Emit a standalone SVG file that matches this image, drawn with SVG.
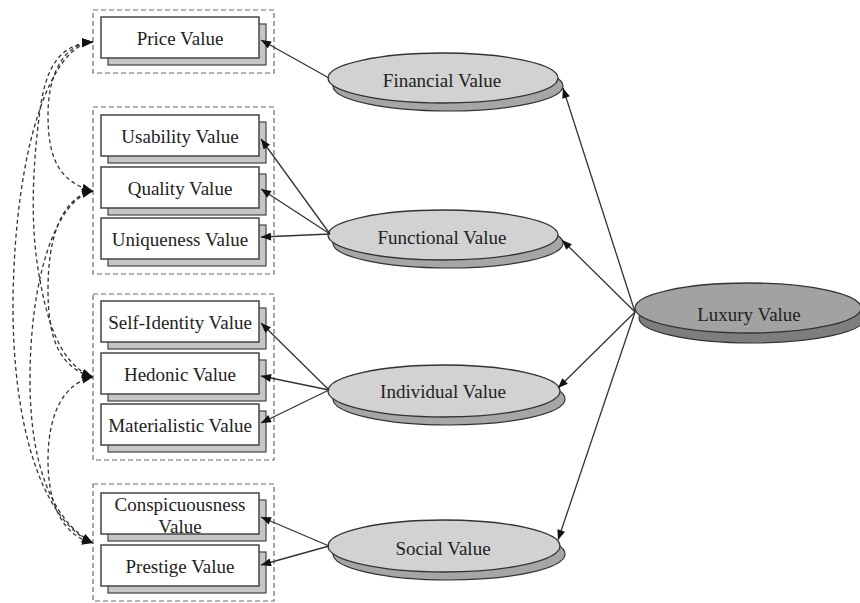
<svg xmlns="http://www.w3.org/2000/svg" width="860" height="603" viewBox="0 0 860 603">
<defs>
<style>
.grp{fill:none;stroke:#6a6a6a;stroke-width:1.2;stroke-dasharray:5,3}
.box{fill:#fff;stroke:#444;stroke-width:1.5}
.bsh{fill:#c6c6c6;stroke:#444;stroke-width:1.2}
.ell{fill:#d2d2d2;stroke:#333;stroke-width:1.3}
.esh{fill:#a6a6a6;stroke:#333;stroke-width:1.2}
.lell{fill:#a2a2a2;stroke:#333;stroke-width:1.3}
.lsh{fill:#7e7e7e;stroke:#333;stroke-width:1.2}
.t{font-family:"Liberation Serif","Times New Roman",serif;font-size:19px;fill:#222;text-anchor:middle}
.c{fill:none;stroke:#333;stroke-width:1.3;marker-end:url(#ah)}
.d{fill:none;stroke:#333;stroke-width:1.3;stroke-dasharray:4,3;marker-start:url(#ah2);marker-end:url(#ah2)}
</style>
<marker id="ah" viewBox="0 0 10 8" refX="10" refY="4" markerWidth="11" markerHeight="8" markerUnits="userSpaceOnUse" orient="auto"><path d="M0,0 L10,4 L0,8 z" fill="#111"/></marker>
<marker id="ah2" viewBox="0 0 10 8" refX="10" refY="4" markerWidth="11" markerHeight="9" markerUnits="userSpaceOnUse" orient="auto-start-reverse"><path d="M0,0 L10,4 L0,8 z" fill="#111"/></marker>
</defs>
<rect width="860" height="603" fill="#fff"/>

<g id="groups">
<rect class="grp" x="93" y="10" width="181" height="63"/>
<rect class="grp" x="93" y="107" width="181" height="167"/>
<rect class="grp" x="93" y="294" width="181" height="166"/>
<rect class="grp" x="93" y="484" width="181" height="117"/>
</g>

<g id="price"><rect class="bsh" x="108" y="24" width="158" height="41"/><rect class="box" x="101" y="17" width="158" height="41"/><text class="t" x="180" y="45">Price Value</text></g>
<g id="usability"><rect class="bsh" x="108" y="122" width="158" height="41"/><rect class="box" x="101" y="115" width="158" height="41"/><text class="t" x="180" y="143">Usability Value</text></g>
<g id="quality"><rect class="bsh" x="108" y="174" width="158" height="41"/><rect class="box" x="101" y="167" width="158" height="41"/><text class="t" x="180" y="195">Quality Value</text></g>
<g id="uniqueness"><rect class="bsh" x="108" y="225" width="158" height="41"/><rect class="box" x="101" y="218" width="158" height="41"/><text class="t" x="180" y="246">Uniqueness Value</text></g>
<g id="selfidentity"><rect class="bsh" x="108" y="308" width="158" height="41"/><rect class="box" x="101" y="301" width="158" height="41"/><text class="t" x="180" y="329">Self-Identity Value</text></g>
<g id="hedonic"><rect class="bsh" x="108" y="360" width="158" height="41"/><rect class="box" x="101" y="353" width="158" height="41"/><text class="t" x="180" y="381">Hedonic Value</text></g>
<g id="materialistic"><rect class="bsh" x="108" y="411" width="158" height="41"/><rect class="box" x="101" y="404" width="158" height="41"/><text class="t" x="180" y="432">Materialistic Value</text></g>
<g id="conspicuousness"><rect class="bsh" x="108" y="500" width="158" height="41"/><rect class="box" x="101" y="493" width="158" height="41"/><text class="t" x="180" y="511">Conspicuousness</text><text class="t" x="180" y="533">Value</text></g>
<g id="prestige"><rect class="bsh" x="108" y="552" width="158" height="41"/><rect class="box" x="101" y="545" width="158" height="41"/><text class="t" x="180" y="573">Prestige Value</text></g>

<g id="financial"><ellipse class="esh" cx="448" cy="86" rx="115" ry="25"/><ellipse class="ell" cx="443" cy="78" rx="115" ry="25"/><text class="t" x="442" y="87">Financial Value</text></g>
<g id="functional"><ellipse class="esh" cx="448" cy="243" rx="115" ry="25"/><ellipse class="ell" cx="443" cy="235" rx="115" ry="25"/><text class="t" x="442" y="244">Functional Value</text></g>
<g id="individual"><ellipse class="esh" cx="449" cy="399" rx="116" ry="26"/><ellipse class="ell" cx="444" cy="391" rx="116" ry="26"/><text class="t" x="443" y="398">Individual Value</text></g>
<g id="social"><ellipse class="esh" cx="449" cy="554" rx="116" ry="26"/><ellipse class="ell" cx="444" cy="546" rx="116" ry="26"/><text class="t" x="443" y="555">Social Value</text></g>
<g id="luxury"><ellipse class="lsh" cx="752" cy="318" rx="113" ry="25"/><ellipse class="lell" cx="748" cy="308" rx="113" ry="25"/><text class="t" x="749" y="321">Luxury Value</text></g>

<g id="connectors">
<line class="c" x1="329" y1="78" x2="261" y2="40"/>
<line class="c" x1="330" y1="234" x2="261" y2="139"/>
<line class="c" x1="330" y1="234" x2="261" y2="189"/>
<line class="c" x1="330" y1="234" x2="261" y2="237"/>
<line class="c" x1="329" y1="390" x2="261" y2="323"/>
<line class="c" x1="329" y1="390" x2="261" y2="376"/>
<line class="c" x1="329" y1="390" x2="261" y2="423"/>
<line class="c" x1="329" y1="546" x2="261" y2="517"/>
<line class="c" x1="329" y1="546" x2="261" y2="565"/>
<line class="c" x1="635" y1="312" x2="563" y2="88"/>
<line class="c" x1="635" y1="312" x2="562" y2="240"/>
<line class="c" x1="635" y1="312" x2="558" y2="388"/>
<line class="c" x1="635" y1="312" x2="558" y2="540"/>
<path class="d" d="M93,42 C60,44 48,80 48,115 C48,160 60,182 93,191"/>
<path class="d" d="M93,42 C55,44 45,75 40,110 C32,170 30,230 40,280 C47,320 60,365 93,377"/>
<path class="d" d="M93,42 C50,45 15,150 13,300 C12,420 40,520 93,543"/>
<path class="d" d="M93,191 C60,198 48,240 48,290 C48,340 60,368 93,377"/>
<path class="d" d="M93,191 C55,200 30,280 30,380 C30,460 50,520 93,543"/>
<path class="d" d="M93,377 C60,384 48,420 48,460 C48,500 60,535 93,543"/>
</g>
</svg>
